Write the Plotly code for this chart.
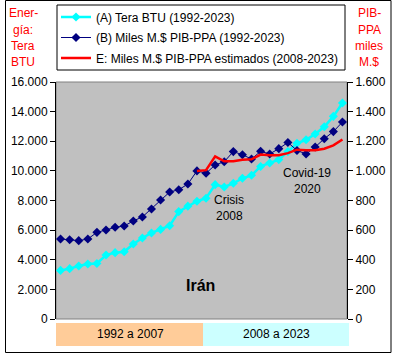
import plotly.graph_objects as go

years = list(range(1992, 2024))
energia_tbtu = [3280, 3400, 3580, 3710, 3750, 4320, 4480, 4540, 5060, 5470, 5810, 6050,
                6300, 7250, 7620, 7950, 8150, 9070, 8910, 9160, 9500, 9700, 10300, 10530,
                10760, 11300, 11860, 12100, 12490, 12980, 13680, 14580]
pib_ppa = [540, 535, 529, 540, 585, 601, 619, 628, 662, 689, 743, 803,
           857, 873, 911, 1000, 984, 1040, 1062, 1130, 1109, 1080, 1132, 1114,
           1150, 1192, 1138, 1114, 1161, 1217, 1265, 1330]
est_years = list(range(2007, 2024))
pib_est = [1000, 1005, 1098, 1065, 1065, 1075, 1078, 1110, 1105, 1105, 1120, 1143,
           1140, 1140, 1150, 1172, 1212]

left_ticks = list(range(0, 16001, 2000))
right_ticks = list(range(0, 1601, 200))

W, H = 395, 357
L, R, T, B = 56, 347, 82, 319
FONT = "Liberation Sans"


def xp(px):
    return (px - L) / (R - L)


def yp(py):
    return (B - py) / (B - T)


fig = go.Figure()
fig.add_trace(go.Scatter(
    x=years, y=energia_tbtu, name="(A) Tera BTU (1992-2023)", mode="lines+markers",
    line=dict(color="#00FFFF", width=2.5), marker=dict(symbol="diamond", size=7, color="#00FFFF"),
    yaxis="y", legendgroup="a"))
fig.add_trace(go.Scatter(
    x=years, y=pib_ppa, name="(B) Miles M.$ PIB-PPA (1992-2023)", mode="lines+markers",
    line=dict(color="#000080", width=1), marker=dict(symbol="diamond", size=7, color="#000080"),
    yaxis="y2", legendgroup="b"))
fig.add_trace(go.Scatter(
    x=est_years, y=pib_est, name="E: Miles M.$ PIB-PPA estimados (2008-2023)", mode="lines",
    line=dict(color="#FF0000", width=2.5), yaxis="y2", legendgroup="e"))

shapes = []
# outer chart border
shapes.append(dict(type="rect", xref="paper", yref="paper", x0=xp(5.5), x1=xp(391), y0=yp(352.5), y1=yp(0.5),
                   line=dict(color="black", width=1), fillcolor="rgba(0,0,0,0)", layer="above"))
# legend box
shapes.append(dict(type="rect", xref="paper", yref="paper", x0=xp(57), x1=xp(345), y0=yp(70), y1=yp(5),
                   line=dict(color="black", width=1), fillcolor="white", layer="below"))
# plot area border
shapes.append(dict(type="rect", xref="paper", yref="paper", x0=0, x1=1, y0=0, y1=1,
                   line=dict(color="#808080", width=1), fillcolor="rgba(0,0,0,0)", layer="below"))
# bottom bands
shapes.append(dict(type="rect", xref="paper", yref="paper", x0=xp(56), x1=xp(203), y0=yp(346), y1=yp(323),
                   line=dict(width=0), fillcolor="#FFCC99", layer="below"))
shapes.append(dict(type="rect", xref="paper", yref="paper", x0=xp(203), x1=xp(349), y0=yp(346), y1=yp(323),
                   line=dict(width=0), fillcolor="#CCFFFF", layer="below"))

ann = []


def txt(s, x, y, size=12, color="black", bold=False):
    ann.append(dict(text=f"<b>{s}</b>" if bold else s, x=xp(x), y=yp(y), xref="paper", yref="paper",
                    showarrow=False, xanchor="center", yanchor="middle",
                    font=dict(family=FONT, size=size, color=color)))


for s, y in zip(["Ener-", "gía:", "Tera", "BTU"], [13, 30, 46, 62]):
    txt(s, 23, y, size=12, color="red")
for s, y in zip(["PIB-", "PPA", "miles", "M.$"], [13, 30, 46, 62]):
    txt(s, 369, y, size=12, color="red")
txt("Crisis", 229, 200)
txt("2008", 229, 216)
txt("Covid-19", 307, 173)
txt("2020", 307, 189)
txt("Irán", 200, 285, size=16, bold=True)
txt("1992 a 2007", 130, 334)
txt("2008 a 2023", 276, 334)

fig.update_layout(
    width=W, height=H,
    margin=dict(l=L, r=W - R, t=T, b=H - B, autoexpand=False),
    paper_bgcolor="white", plot_bgcolor="#C0C0C0",
    separators=",.",
    font=dict(family=FONT, size=12, color="black"),
    showlegend=True,
    legend=dict(x=xp(56), y=yp(2.5), xanchor="left", yanchor="top", bgcolor="rgba(0,0,0,0)",
                borderwidth=0, font=dict(family=FONT, size=12), tracegroupgap=1.5),
    xaxis=dict(range=[1991.5, 2023.5], showticklabels=False, ticks="", showgrid=False, zeroline=False,
               showline=False),
    yaxis=dict(range=[0, 16000], tickvals=left_ticks, tickformat=",.0f", ticks="outside", ticklen=5,
               tickcolor="black", showline=True, linecolor="black", linewidth=1, showgrid=False,
               zeroline=False, tickfont=dict(size=12)),
    yaxis2=dict(range=[0, 1600], tickvals=right_ticks, tickformat=",.0f", ticks="outside", ticklen=5,
                tickcolor="black", showline=True, linecolor="black", linewidth=1, showgrid=False,
                zeroline=False, overlaying="y", side="right", tickfont=dict(size=12)),
    shapes=shapes, annotations=ann,
)

fig.write_html("out.html", config={"displayModeBar": False},
               post_script="document.body.style.margin='0';document.body.style.padding='0';")
